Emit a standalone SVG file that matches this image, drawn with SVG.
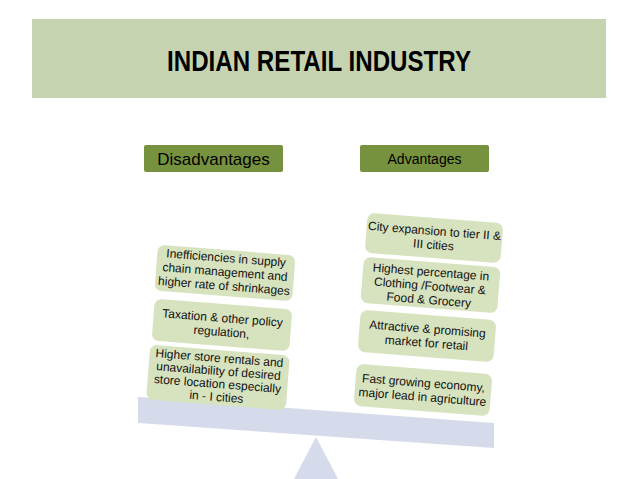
<svg xmlns="http://www.w3.org/2000/svg" width="638" height="479" viewBox="0 0 638 479">
<style>
.card{fill:#d7e2bf;}
.ct{font-family:"Liberation Sans",Arial,sans-serif;font-size:12px;fill:#111;text-anchor:middle;}
.hdr{fill:#77923e;}
.balance{fill:#d5dbea;}
</style>
<rect x="0" y="0" width="638" height="479" fill="#ffffff"/>
<g id="title">
<rect x="32" y="19" width="574" height="79" fill="#c6d3b1"/>
<text x="319" y="71" font-family="'Liberation Sans',Arial,sans-serif" font-weight="bold" font-size="29" text-anchor="middle" textLength="304" lengthAdjust="spacingAndGlyphs" fill="#000">INDIAN RETAIL INDUSTRY</text>
</g>
<g id="disadvantages">
<rect class="hdr" x="144" y="145" width="139" height="27" rx="2"/>
<text x="213.5" y="165" font-family="'Liberation Sans',Arial,sans-serif" font-size="17" text-anchor="middle" fill="#000">Disadvantages</text>
</g>
<g id="advantages">
<rect class="hdr" x="360" y="145" width="129" height="27" rx="2"/>
<text x="424.5" y="164" font-family="'Liberation Sans',Arial,sans-serif" font-size="14" text-anchor="middle" fill="#000">Advantages</text>
</g>
<g id="balance">
<polygon class="balance" points="316,437 294,479 338,479"/>
<polygon class="balance" points="138,397 494,423 494,448 138,423"/>
</g>
<g id="left1" transform="rotate(4.5 225 273)">
<rect class="card" x="156" y="250" width="138" height="46" rx="7"/>
<text class="ct" x="225" y="262">Inefficiencies in supply</text>
<text class="ct" x="225" y="276">chain management and</text>
<text class="ct" x="225" y="290">higher rate of shrinkages</text>
</g>
<g id="left2" transform="rotate(4.5 222 325)">
<rect class="card" x="153" y="304" width="138" height="42" rx="7"/>
<text class="ct" x="222" y="322">Taxation &amp; other policy</text>
<text class="ct" x="222" y="336">regulation,</text>
</g>
<g id="left3" transform="rotate(4.5 218 377)">
<rect class="card" x="148" y="350" width="140" height="55" rx="7"/>
<text class="ct" x="218" y="362">Higher store rentals and</text>
<text class="ct" x="218" y="375">unavailability of desired</text>
<text class="ct" x="218" y="388">store location especially</text>
<text class="ct" x="218" y="401">in - I cities</text>
</g>
<g id="right1" transform="rotate(4.5 434 238)">
<rect class="card" x="366" y="218" width="136" height="40" rx="7"/>
<text class="ct" x="434" y="235">City expansion to tier II &amp;</text>
<text class="ct" x="434" y="249">III cities</text>
</g>
<g id="right2" transform="rotate(4.5 430 285)">
<rect class="card" x="362" y="262" width="137" height="46" rx="7"/>
<text class="ct" x="430" y="276">Highest percentage in</text>
<text class="ct" x="430" y="290">Clothing /Footwear &amp;</text>
<text class="ct" x="430" y="304">Food &amp; Grocery</text>
</g>
<g id="right3" transform="rotate(4.5 427 336)">
<rect class="card" x="359" y="315" width="136" height="42" rx="7"/>
<text class="ct" x="427" y="333">Attractive &amp; promising</text>
<text class="ct" x="427" y="347">market for retail</text>
</g>
<g id="right4" transform="rotate(4.5 423 390)">
<rect class="card" x="355" y="369" width="136" height="42" rx="7"/>
<text class="ct" x="423" y="387">Fast growing economy,</text>
<text class="ct" x="423" y="401">major lead in agriculture</text>
</g>
<g id="connectors"></g>
</svg>
